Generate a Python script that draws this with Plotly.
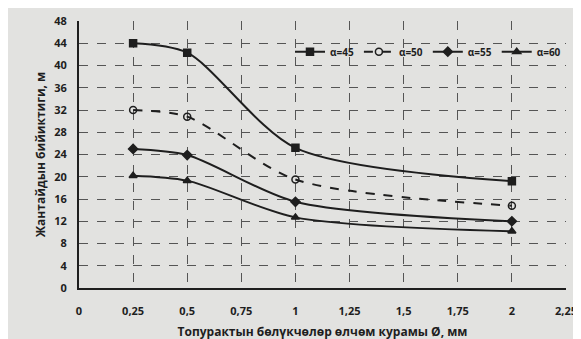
import plotly.graph_objects as go

x_vals = [0.25, 0.5, 1, 2]
series_names = ["α=45", "α=50", "α=55", "α=60"]
a45 = [44, 42.3, 25.2, 19.2]
a50 = [32, 30.8, 19.5, 14.8]
a55 = [25, 23.9, 15.5, 12.0]
a60 = [20.2, 19.3, 12.7, 10.2]
x_ticks = [0, 0.25, 0.5, 0.75, 1, 1.25, 1.5, 1.75, 2, 2.25]
x_tick_labels = ["0", "0,25", "0,5", "0,75", "1", "1,25", "1,5", "1,75", "2", "2,25"]
y_ticks = list(range(0, 49, 4))

ink = "#1e1e1e"
font = "Open Sans"

fig = go.Figure()
styles = [
    (a45, "square", "solid", ink, 7),
    (a50, "circle-open", "dash", ink, 7),
    (a55, "diamond", "solid", ink, 7),
    (a60, "triangle-up", "solid", ink, 7),
]
for name, (ys, sym, dash, col, sz) in zip(series_names, styles):
    fig.add_trace(go.Scatter(
        x=x_vals, y=ys, name=name, mode="lines+markers",
        line=dict(color=ink, width=2, shape="spline", smoothing=0.8, dash=dash),
        marker=dict(symbol=sym, size=sz, color=col, line=dict(color=ink, width=1.5)),
    ))

fig.update_layout(
    width=581, height=339,
    margin=dict(l=71, r=23, t=13, b=59, autoexpand=False),
    paper_bgcolor="#e2e2e0", plot_bgcolor="#e2e2e0",
    font=dict(family=font, size=11, color=ink),
    showlegend=True,
    legend=dict(orientation="h", x=1.0, y=0.885, xanchor="right", yanchor="middle",
                bgcolor="rgba(0,0,0,0)", font=dict(size=10, color=ink, weight="bold"),
                itemwidth=30, tracegroupgap=0),
    xaxis=dict(range=[0, 2.25], tickvals=x_ticks, ticktext=x_tick_labels,
               showgrid=True, gridcolor="#555", griddash="dash", gridwidth=1,
               showline=True, linecolor=ink, linewidth=2, zeroline=False,
               ticks="", ticklabelstandoff=12, automargin=False,
               title=dict(text="Топурактын бөлүкчөлөр өлчөм курамы Ø, мм",
                          font=dict(size=12, family=font, weight="bold"), standoff=10),
               tickfont=dict(size=11, weight="bold")),
    yaxis=dict(range=[0, 48], tickvals=y_ticks,
               showgrid=True, gridcolor="#555", griddash="dash", gridwidth=1,
               showline=True, linecolor=ink, linewidth=2, zeroline=False,
               ticks="", ticklabelstandoff=8, automargin=False,
               title=dict(text="Жантайдын бийиктиги, м",
                          font=dict(size=12, family=font, weight="bold"), standoff=6),
               tickfont=dict(size=11, weight="bold")),
)
fig.write_html("out.html")
